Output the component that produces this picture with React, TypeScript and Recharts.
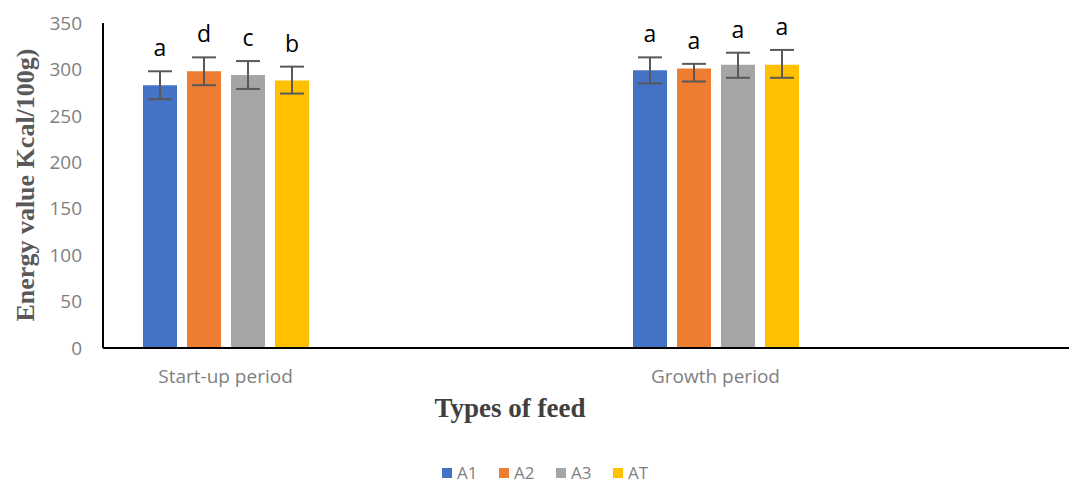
import React from "react";
import { BarChart, Bar, XAxis, YAxis, ErrorBar, LabelList, Legend, Label } from "recharts";

const categories = ["Start-up period", "", "Growth period", ""];
const seriesNames = ["A1", "A2", "A3", "AT"];
const colors = ["#4472C4", "#ED7D31", "#A5A5A5", "#FFC000"];

const valuesA1 = [283, null, 299, null];
const valuesA2 = [298, null, 301, null];
const valuesA3 = [294, null, 305, null];
const valuesAT = [288, null, 305, null];

const errA1 = [[15, 15], null, [14, 14], null];
const errA2 = [[15, 15], null, [14, 5], null];
const errA3 = [[15, 15], null, [14, 13], null];
const errAT = [[14, 15], null, [14, 16], null];

const lettersA1 = ["a", "", "a", ""];
const lettersA2 = ["d", "", "a", ""];
const lettersA3 = ["c", "", "a", ""];
const lettersAT = ["b", "", "a", ""];

const yTicks = [0, 50, 100, 150, 200, 250, 300, 350];

const allValues = [valuesA1, valuesA2, valuesA3, valuesAT];
const allErrs = [errA1, errA2, errA3, errAT];
const allLetters = [lettersA1, lettersA2, lettersA3, lettersAT];

const data = categories.map((c, i) => {
  const row: any = { category: c, idx: i };
  seriesNames.forEach((s, k) => {
    row[s] = allValues[k][i];
    row[s + "_err"] = allErrs[k][i];
    row[s + "_lbl"] = allLetters[k][i];
  });
  return row;
});

const makeLetter = (key: string) => (props: any) => {
  const { x, y, width, height, value } = props;
  const row = data[value];
  if (!row) return null;
  const v = row[key];
  const err = row[key + "_err"];
  const lbl = row[key + "_lbl"];
  if (v == null || !lbl) return null;
  const pxPerUnit = Math.abs(height) / v;
  const errTop = y - err[1] * pxPerUnit;
  return (
    <text
      x={x + width / 2}
      y={errTop - 24}
      textAnchor="middle"
      dominantBaseline="central"
      fontFamily="'Open Sans', 'Liberation Sans', sans-serif"
      fontSize={23}
      fill="#000"
    >
      {lbl}
    </text>
  );
};

const renderLegend = () => (
  <div
    style={{
      display: "flex",
      paddingLeft: 442,
      alignItems: "center",
      fontFamily: "'Open Sans', 'Liberation Sans', sans-serif",
      fontSize: 17,
      color: "#7f7f7f",
      height: 18,
    }}
  >
    {seriesNames.map((s, k) => (
      <div key={s} style={{ display: "flex", alignItems: "center", width: 57, height: 18 }}>
        <span style={{ display: "inline-block", width: 10, height: 10, background: colors[k], marginRight: 5 }} />
        <span style={{ lineHeight: "18px" }}>{s}</span>
      </div>
    ))}
  </div>
);

export default function App() {
  return (
    <div style={{ position: "fixed", left: 0, top: 0, width: 1069, height: 483, overflow: "hidden", background: "#fff" }}>
      <BarChart
        width={1100}
        height={483}
        data={data}
        margin={{ top: 23, right: 17, left: 0, bottom: 87 }}
        barSize={34}
        barGap={10}
      >
        <XAxis
          dataKey="category"
          height={30}
          axisLine={{ stroke: "#000", strokeWidth: 2 }}
          tickLine={false}
          tickMargin={16}
          interval={0}
          tick={{ fill: "#7f7f7f", fontSize: 19, fontFamily: "'Open Sans', 'Liberation Sans', sans-serif" }}
        >
          <Label
            content={() => (
              <text
                x={510}
                y={408}
                textAnchor="middle"
                dominantBaseline="central"
                fontFamily="'Liberation Serif', 'DejaVu Serif', serif"
                fontWeight="bold"
                fontSize={27}
                fill="#404040"
              >
                Types of feed
              </text>
            )}
          />
        </XAxis>
        <YAxis
          width={103}
          domain={[0, 350]}
          ticks={yTicks}
          interval={0}
          axisLine={{ stroke: "#000", strokeWidth: 2 }}
          tickLine={false}
          tickMargin={15}
          tick={{ fill: "#7f7f7f", fontSize: 19, fontFamily: "'Open Sans', 'Liberation Sans', sans-serif" }}
        >
          <Label
            content={() => (
              <text
                x={25}
                y={185}
                textAnchor="middle"
                dominantBaseline="central"
                transform="rotate(-90, 25, 185)"
                fontFamily="'Liberation Serif', 'DejaVu Serif', serif"
                fontWeight="bold"
                fontSize={26}
                fill="#595959"
              >
                Energy value Kcal/100g)
              </text>
            )}
          />
        </YAxis>
        <Legend
          content={renderLegend}
          wrapperStyle={{ position: "absolute", top: 464, left: 0, width: 1100, height: 18 }}
        />
        {seriesNames.map((s, k) => (
          <Bar key={s} dataKey={s} fill={colors[k]} isAnimationActive={false}>
            <ErrorBar dataKey={s + "_err"} width={12} strokeWidth={2} stroke="#595959" direction="y" />
            <LabelList dataKey="idx" content={makeLetter(s)} />
          </Bar>
        ))}
      </BarChart>
    </div>
  );
}
